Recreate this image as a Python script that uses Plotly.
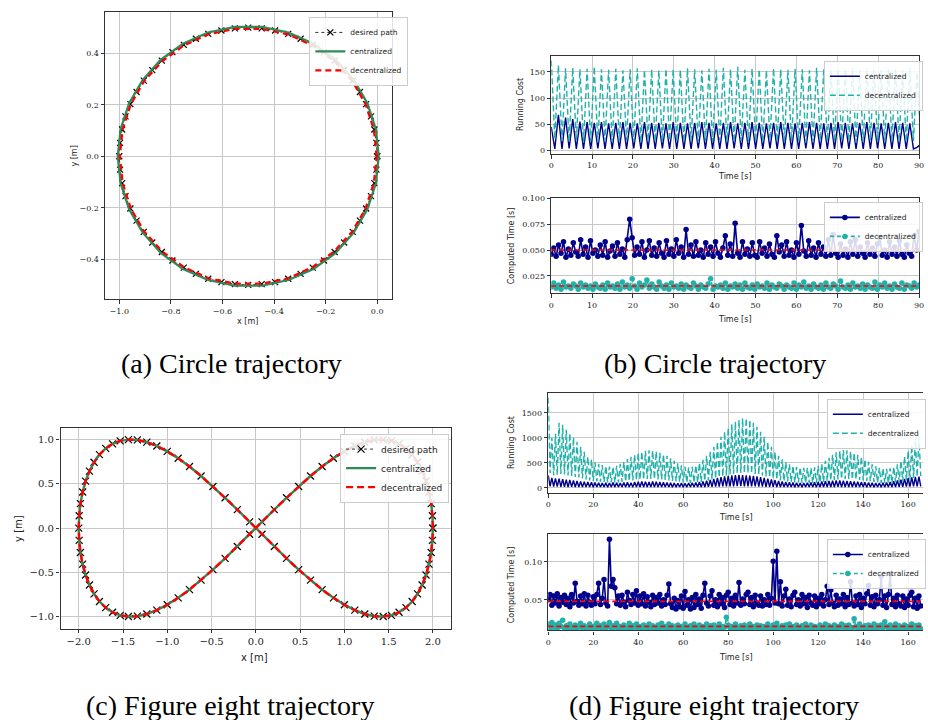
import plotly.graph_objects as go

W, H = 928, 720

# ---------------- (a) circle trajectory ----------------
circ_des_x = [0.0, -0.003, -0.011, -0.024, -0.043, -0.067, -0.095, -0.128, -0.165, -0.206, -0.25, -0.297, -0.345, -0.396, -0.448, -0.5,
              -0.552, -0.604, -0.655, -0.703, -0.75, -0.794, -0.835, -0.872, -0.905, -0.933, -0.957, -0.976, -0.989, -0.997, -1.0,
              -0.997, -0.989, -0.976, -0.957, -0.933, -0.905, -0.872, -0.835, -0.794, -0.75, -0.703, -0.655, -0.604, -0.552, -0.5,
              -0.448, -0.396, -0.345, -0.297, -0.25, -0.206, -0.165, -0.128, -0.095, -0.067, -0.043, -0.024, -0.011, -0.003, 0.0]
circ_des_y = [0.0, 0.052, 0.104, 0.155, 0.203, 0.25, 0.294, 0.335, 0.372, 0.405, 0.433, 0.457, 0.476, 0.489, 0.497, 0.5,
              0.497, 0.489, 0.476, 0.457, 0.433, 0.405, 0.372, 0.335, 0.294, 0.25, 0.203, 0.155, 0.104, 0.052, 0.0,
              -0.052, -0.104, -0.155, -0.203, -0.25, -0.294, -0.335, -0.372, -0.405, -0.433, -0.457, -0.476, -0.489, -0.497, -0.5,
              -0.497, -0.489, -0.476, -0.457, -0.433, -0.405, -0.372, -0.335, -0.294, -0.25, -0.203, -0.155, -0.104, -0.052, 0.0]
circ_cen_x = [0.006, -0.005, -0.038, -0.091, -0.161, -0.247, -0.344, -0.447, -0.553, -0.656, -0.753, -0.839, -0.909, -0.962, -0.995, -1.006,
              -0.995, -0.962, -0.909, -0.839, -0.753, -0.656, -0.553, -0.447, -0.344, -0.247, -0.161, -0.091, -0.038, -0.005, 0.006]
circ_cen_y = [0.0, 0.105, 0.206, 0.297, 0.376, 0.438, 0.481, 0.503, 0.503, 0.481, 0.438, 0.376, 0.297, 0.206, 0.105, 0.0,
              -0.105, -0.206, -0.297, -0.376, -0.438, -0.481, -0.503, -0.503, -0.481, -0.438, -0.376, -0.297, -0.206, -0.105, 0.0]
circ_dec_x = [-0.002, -0.013, -0.045, -0.097, -0.167, -0.251, -0.346, -0.448, -0.552, -0.654, -0.749, -0.833, -0.903, -0.955, -0.987, -0.998,
              -0.987, -0.955, -0.903, -0.833, -0.749, -0.654, -0.552, -0.448, -0.346, -0.251, -0.167, -0.097, -0.045, -0.013, -0.002]
circ_dec_y = [0.0, 0.104, 0.203, 0.293, 0.370, 0.431, 0.474, 0.495, 0.495, 0.474, 0.431, 0.370, 0.293, 0.203, 0.104, 0.0,
              -0.104, -0.203, -0.293, -0.370, -0.431, -0.474, -0.495, -0.495, -0.474, -0.431, -0.370, -0.293, -0.203, -0.104, 0.0]

# ---------------- (c) figure eight trajectory ----------------
eight_x = [2.0, 1.995, 1.981, 1.956, 1.923, 1.879, 1.827, 1.766, 1.696, 1.618, 1.532, 1.439, 1.338, 1.231, 1.118, 1.0,
           0.877, 0.749, 0.618, 0.484, 0.347, 0.209, 0.070,
           -0.070, -0.209, -0.347, -0.484, -0.618, -0.749, -0.877, -1.0, -1.118, -1.231, -1.338, -1.439, -1.532, -1.618,
           -1.696, -1.766, -1.827, -1.879, -1.923, -1.956, -1.981, -1.995, -2.0,
           -1.995, -1.981, -1.956, -1.923, -1.879, -1.827, -1.766, -1.696, -1.618, -1.532, -1.439, -1.338, -1.231, -1.118,
           -1.0, -0.877, -0.749, -0.618, -0.484, -0.347, -0.209, -0.070,
           0.070, 0.209, 0.347, 0.484, 0.618, 0.749, 0.877, 1.0, 1.118, 1.231, 1.338, 1.439, 1.532, 1.618, 1.696,
           1.766, 1.827, 1.879, 1.923, 1.956, 1.981, 1.995, 2.0]
eight_y = [0.0, 0.139, 0.276, 0.407, 0.530, 0.643, 0.743, 0.829, 0.899, 0.951, 0.985, 0.999, 0.995, 0.970, 0.927, 0.866,
           0.788, 0.695, 0.588, 0.469, 0.342, 0.208, 0.070,
           -0.070, -0.208, -0.342, -0.469, -0.588, -0.695, -0.788, -0.866, -0.927, -0.970, -0.995, -0.999, -0.985, -0.951,
           -0.899, -0.829, -0.743, -0.643, -0.530, -0.407, -0.276, -0.139, 0.0,
           0.139, 0.276, 0.407, 0.530, 0.643, 0.743, 0.829, 0.899, 0.951, 0.985, 0.999, 0.995, 0.970, 0.927,
           0.866, 0.788, 0.695, 0.588, 0.469, 0.342, 0.208, 0.070,
           -0.070, -0.208, -0.342, -0.469, -0.588, -0.695, -0.788, -0.866, -0.927, -0.970, -0.995, -0.999, -0.985, -0.951, -0.899,
           -0.829, -0.743, -0.643, -0.530, -0.407, -0.276, -0.139, 0.0]

# ---------------- (b) circle: running cost (peaks / lows per cycle) ----------------
rc_b_period = 1.755
rc_b_cen_peak = [45, 68, 63, 60, 55, 54, 53, 54, 52, 53, 54, 53, 52, 54, 53, 53, 52, 54, 53, 52, 53, 54, 53, 52, 53, 54,
                 52, 53, 54, 53, 52, 53, 54, 53, 52, 53, 54, 53, 52, 53, 54, 53, 52, 53, 54, 53, 52, 53, 54, 53, 52, 6]
rc_b_cen_low = [3, 3, 4, 3, 3, 3, 4, 3, 3, 3, 3, 4, 3, 3, 3, 4, 3, 3, 3, 3, 4, 3, 3, 3, 3, 4,
                3, 3, 3, 3, 4, 3, 3, 3, 3, 4, 3, 3, 3, 3, 4, 3, 3, 3, 3, 4, 3, 3, 3, 3, 3, 12]
rc_b_dec_peak = [172, 163, 157, 158, 155, 156, 160, 155, 154, 156, 153, 155, 157, 154, 155, 153, 156, 155, 154, 157,
                 155, 153, 156, 154, 158, 155, 160, 154, 156, 155, 153, 157, 155, 154, 156, 155, 153, 158, 155, 154,
                 156, 155, 157, 154, 156, 155, 153, 156, 155, 154, 158, 150]
rc_b_dec_low = [22, 18, 16, 19, 15, 17, 16, 18, 16, 17, 19, 16, 15, 18, 17, 16, 19, 17, 16, 18, 15, 17, 16, 19, 17, 16,
                18, 15, 17, 16, 19, 17, 16, 18, 17, 15, 16, 19, 17, 16, 18, 17, 15, 16, 19, 17, 16, 18, 17, 16, 18, 24]

# ---------------- (b) circle: computed time, sampled every 0.6 s ----------------
ct_b_step = 0.6
ct_b_cen = [0.046, 0.052, 0.044, 0.055, 0.047, 0.058, 0.043, 0.051, 0.045, 0.057,
            0.048, 0.044, 0.060, 0.046, 0.053, 0.043, 0.059, 0.047, 0.050, 0.044,
            0.055, 0.045, 0.058, 0.043, 0.049, 0.054, 0.044, 0.057, 0.046, 0.051,
            0.043, 0.060, 0.080, 0.062, 0.045, 0.053, 0.046, 0.058, 0.043, 0.050,
            0.059, 0.045, 0.052, 0.044, 0.057, 0.047, 0.043, 0.059, 0.046, 0.051,
            0.044, 0.060, 0.047, 0.053, 0.043, 0.070, 0.046, 0.055, 0.044, 0.058,
            0.045, 0.050, 0.043, 0.057, 0.046, 0.053, 0.044, 0.058, 0.047, 0.043,
            0.052, 0.064, 0.045, 0.056, 0.044, 0.076, 0.047, 0.043, 0.058, 0.046,
            0.051, 0.044, 0.057, 0.045, 0.043, 0.058, 0.047, 0.052, 0.044, 0.056,
            0.046, 0.043, 0.064, 0.048, 0.055, 0.044, 0.058, 0.045, 0.050, 0.043,
            0.057, 0.046, 0.074, 0.049, 0.044, 0.059, 0.045, 0.052, 0.043, 0.057,
            0.046, 0.053, 0.044, 0.060, 0.045, 0.065, 0.047, 0.043, 0.056, 0.045,
            0.051, 0.043, 0.058, 0.046, 0.060, 0.044, 0.053, 0.047, 0.043, 0.057,
            0.046, 0.052, 0.044, 0.056, 0.062, 0.045, 0.050, 0.043, 0.058, 0.046,
            0.053, 0.044, 0.059, 0.046, 0.043, 0.055, 0.047, 0.044, 0.064, 0.050,
            0.068]
ct_b_dec = [0.014, 0.018, 0.013, 0.016, 0.012, 0.019, 0.014, 0.015, 0.013, 0.017,
            0.015, 0.012, 0.018, 0.014, 0.016, 0.013, 0.015, 0.012, 0.017, 0.014,
            0.013, 0.016, 0.012, 0.018, 0.014, 0.015, 0.013, 0.017, 0.012, 0.019,
            0.014, 0.016, 0.013, 0.022, 0.015, 0.012, 0.018, 0.014, 0.016, 0.021,
            0.013, 0.017, 0.014, 0.012, 0.019, 0.015, 0.013, 0.016, 0.012, 0.018,
            0.014, 0.015, 0.013, 0.017, 0.012, 0.016, 0.014, 0.013, 0.018, 0.015,
            0.012, 0.016, 0.014, 0.013, 0.017, 0.022, 0.012, 0.015, 0.014, 0.016,
            0.013, 0.018, 0.012, 0.015, 0.014, 0.017, 0.013, 0.016, 0.012, 0.018,
            0.014, 0.013, 0.016, 0.012, 0.017, 0.014, 0.015, 0.013, 0.018, 0.012,
            0.016, 0.014, 0.013, 0.017, 0.015, 0.012, 0.016, 0.014, 0.013, 0.018,
            0.012, 0.016, 0.014, 0.019, 0.013, 0.015, 0.012, 0.017, 0.014, 0.013,
            0.016, 0.012, 0.018, 0.014, 0.013, 0.017, 0.015, 0.012, 0.020, 0.014,
            0.013, 0.016, 0.012, 0.018, 0.014, 0.015, 0.013, 0.017, 0.012, 0.016,
            0.014, 0.013, 0.019, 0.012, 0.016, 0.014, 0.018, 0.013, 0.015, 0.012,
            0.017, 0.014, 0.013, 0.018, 0.012, 0.016, 0.015, 0.013, 0.018, 0.014,
            0.016]
ct_b_mean = [0.050, 0.015]

# ---------------- (d) figure eight: running cost (peaks / lows per cycle) ----------------
rc_d_period = 1.6
rc_d_dec_peak = [1800, 1000, 1080, 1300, 1260, 1160, 1090, 1010, 920, 820,
                 720, 620, 570, 510, 480, 455, 435, 425, 420, 440,
                 480, 520, 575, 620, 660, 700, 720, 740, 750, 745,
                 730, 700, 670, 640, 590, 540, 490, 450, 420, 410,
                 420, 450, 500, 560, 640, 720, 820, 920, 1020, 1120,
                 1200, 1270, 1320, 1360, 1390, 1390, 1360, 1300, 1220, 1120,
                 1020, 920, 820, 720, 640, 570, 510, 470, 440, 420,
                 410, 400, 400, 400, 410, 440, 480, 540, 600, 660,
                 710, 740, 755, 750, 730, 700, 660, 620, 570, 520,
                 470, 430, 400, 390, 380, 390, 420, 470, 540, 630,
                 740, 850, 950, 1010]
rc_d_dec_low = [300, 250, 260, 280, 270, 250, 240, 220, 210, 190,
                170, 150, 140, 130, 120, 120, 110, 110, 110, 110,
                120, 130, 140, 150, 160, 170, 170, 180, 180, 180,
                170, 170, 160, 150, 140, 130, 120, 110, 110, 100,
                110, 110, 120, 140, 150, 170, 190, 210, 230, 250,
                270, 280, 290, 300, 300, 300, 290, 280, 270, 250,
                230, 210, 190, 170, 150, 140, 130, 120, 110, 110,
                100, 100, 100, 100, 100, 110, 120, 130, 150, 160,
                170, 180, 180, 180, 170, 170, 160, 150, 140, 130,
                120, 110, 100, 100, 100, 100, 110, 120, 130, 150,
                170, 200, 220, 240]
rc_d_cen_peak = [250, 200, 190, 185, 175, 165, 160, 150, 140, 130,
                 125, 120, 115, 110, 105, 100, 105, 100, 110, 105,
                 100, 110, 115, 105, 120, 125, 130, 125, 120, 130,
                 125, 120, 115, 110, 105, 100, 95, 100, 95, 100,
                 105, 110, 120, 130, 145, 160, 180, 200, 215, 230,
                 240, 250, 255, 260, 255, 250, 245, 240, 230, 215,
                 200, 185, 170, 155, 140, 130, 120, 115, 110, 105,
                 100, 100, 105, 110, 115, 120, 130, 135, 140, 145,
                 150, 150, 145, 140, 135, 130, 125, 120, 115, 110,
                 105, 100, 100, 105, 110, 120, 135, 150, 165, 180,
                 195, 210, 220, 225]
rc_d_cen_low = [35, 30, 28, 25, 22, 20, 22, 20, 18, 20,
                18, 20, 17, 19, 18, 20, 17, 19, 18, 20,
                19, 18, 20, 17, 19, 18, 20, 19, 18, 20,
                17, 19, 18, 20, 17, 18, 19, 17, 18, 19,
                18, 20, 19, 21, 22, 24, 26, 28, 30, 32,
                33, 34, 35, 35, 34, 33, 32, 30, 28, 26,
                24, 22, 21, 20, 19, 18, 19, 18, 17, 18,
                17, 18, 19, 18, 17, 18, 19, 20, 19, 20,
                21, 20, 19, 20, 19, 18, 19, 18, 17, 18,
                17, 18, 17, 18, 19, 20, 21, 22, 24, 26,
                28, 30, 32, 33]

# ---------------- (d) figure eight: computed time, sampled every 0.8 s ----------------
ct_d_step = 0.8
ct_d_cen = [0.050, 0.057, 0.043, 0.055, 0.046, 0.058, 0.042, 0.053, 0.047, 0.056,
            0.044, 0.052, 0.041, 0.057, 0.046, 0.072, 0.048, 0.043, 0.055, 0.045,
            0.058, 0.042, 0.056, 0.047, 0.043, 0.054, 0.045, 0.057, 0.072, 0.044,
            0.052, 0.077, 0.046, 0.042, 0.130, 0.068, 0.077, 0.066, 0.045, 0.055,
            0.043, 0.056, 0.047, 0.041, 0.060, 0.049, 0.044, 0.057, 0.046, 0.062,
            0.043, 0.055, 0.045, 0.058, 0.042, 0.054, 0.047, 0.041, 0.056, 0.044,
            0.053, 0.046, 0.057, 0.042, 0.050, 0.044, 0.056, 0.071, 0.045, 0.040,
            0.052, 0.038, 0.049, 0.041, 0.055, 0.039, 0.061, 0.043, 0.050, 0.038,
            0.053, 0.040, 0.057, 0.044, 0.051, 0.039, 0.056, 0.072, 0.046, 0.042,
            0.055, 0.062, 0.043, 0.050, 0.041, 0.057, 0.045, 0.053, 0.040, 0.056,
            0.060, 0.044, 0.052, 0.042, 0.056, 0.046, 0.073, 0.043, 0.051, 0.045,
            0.057, 0.060, 0.044, 0.053, 0.041, 0.056, 0.046, 0.043, 0.055, 0.042,
            0.050, 0.044, 0.057, 0.043, 0.052, 0.101, 0.046, 0.114, 0.045, 0.074,
            0.042, 0.055, 0.064, 0.043, 0.051, 0.041, 0.056, 0.060, 0.044, 0.050,
            0.042, 0.057, 0.045, 0.053, 0.040, 0.056, 0.046, 0.043, 0.055, 0.041,
            0.052, 0.045, 0.057, 0.042, 0.050, 0.068, 0.044, 0.063, 0.046, 0.041,
            0.056, 0.043, 0.051, 0.045, 0.057, 0.041, 0.053, 0.044, 0.074, 0.046,
            0.042, 0.055, 0.044, 0.057, 0.040, 0.052, 0.045, 0.058, 0.069, 0.043,
            0.054, 0.041, 0.056, 0.045, 0.050, 0.081, 0.043, 0.055, 0.040, 0.057,
            0.084, 0.044, 0.052, 0.041, 0.056, 0.045, 0.042, 0.055, 0.040, 0.051,
            0.043, 0.056, 0.060, 0.041, 0.052, 0.039, 0.055, 0.042]
ct_d_dec = [0.018, 0.013, 0.020, 0.014, 0.017, 0.012, 0.019, 0.015, 0.023, 0.013,
            0.016, 0.012, 0.018, 0.014, 0.013, 0.017, 0.012, 0.015, 0.019, 0.013,
            0.016, 0.012, 0.014, 0.018, 0.013, 0.015, 0.012, 0.019, 0.014, 0.016,
            0.012, 0.018, 0.013, 0.015, 0.020, 0.012, 0.016, 0.014, 0.019, 0.013,
            0.015, 0.012, 0.017, 0.014, 0.013, 0.019, 0.012, 0.016, 0.014, 0.018,
            0.013, 0.015, 0.012, 0.017, 0.014, 0.013, 0.018, 0.012, 0.016, 0.014,
            0.013, 0.017, 0.012, 0.019, 0.014, 0.015, 0.012, 0.018, 0.013, 0.016,
            0.014, 0.012, 0.017, 0.013, 0.015, 0.012, 0.018, 0.014, 0.013, 0.016,
            0.012, 0.018, 0.014, 0.013, 0.017, 0.012, 0.015, 0.014, 0.018, 0.013,
            0.016, 0.012, 0.017, 0.014, 0.013, 0.018, 0.012, 0.015, 0.014, 0.027,
            0.017, 0.013, 0.015, 0.012, 0.018, 0.014, 0.013, 0.016, 0.012, 0.017,
            0.014, 0.013, 0.018, 0.012, 0.015, 0.014, 0.017, 0.012, 0.016, 0.013,
            0.015, 0.012, 0.018, 0.014, 0.013, 0.017, 0.012, 0.019, 0.014, 0.013,
            0.016, 0.012, 0.017, 0.014, 0.018, 0.013, 0.015, 0.012, 0.017, 0.014,
            0.013, 0.016, 0.012, 0.018, 0.014, 0.013, 0.017, 0.012, 0.015, 0.014,
            0.012, 0.017, 0.014, 0.013, 0.018, 0.012, 0.016, 0.014, 0.013, 0.017,
            0.012, 0.015, 0.014, 0.018, 0.013, 0.016, 0.012, 0.017, 0.014, 0.013,
            0.025, 0.015, 0.012, 0.018, 0.014, 0.013, 0.016, 0.012, 0.017, 0.014,
            0.013, 0.018, 0.012, 0.016, 0.014, 0.017, 0.013, 0.021, 0.015, 0.012,
            0.017, 0.014, 0.013, 0.018, 0.012, 0.016, 0.014, 0.013, 0.017, 0.012,
            0.015, 0.014, 0.018, 0.012, 0.016, 0.013, 0.017, 0.012]
ct_d_mean = [0.048, 0.015]

captions = ["(a) Circle trajectory", "(b) Circle trajectory",
            "(c) Figure eight trajectory", "(d) Figure eight trajectory"]

# ---------------- helpers ----------------
def interleave(peaks, lows):
    out = []
    for p, l in zip(peaks, lows):
        out += [p, l]
    return out

def half_times(n, period):
    return [round(k * period / 2, 4) for k in range(n)]

def grid_times(n, step):
    return [round(k * step, 4) for k in range(n)]

def px(x): return x / W
def py(y): return 1 - y / H

NAVY = "#00008b"
CYAN = "#20b2aa"
GREEN = "#2e8b57"
RED = "#ff0000"
SERIF = "DejaVu Serif"
SANS = "DejaVu Sans"

fig = go.Figure()

# (a)
fig.add_trace(go.Scatter(x=circ_des_x, y=circ_des_y, mode="lines+markers", name="desired path",
                         line=dict(color="black", width=0.8, dash="dot"),
                         marker=dict(symbol="x-thin", size=6, line=dict(color="black", width=1.2)),
                         xaxis="x", yaxis="y", legend="legend"))
fig.add_trace(go.Scatter(x=circ_cen_x, y=circ_cen_y, mode="lines", name="centralized",
                         line=dict(color=GREEN, width=2.2), xaxis="x", yaxis="y", legend="legend"))
fig.add_trace(go.Scatter(x=circ_dec_x, y=circ_dec_y, mode="lines", name="decentralized",
                         line=dict(color=RED, width=2.2, dash="6px,4px"), xaxis="x", yaxis="y", legend="legend"))

# (b) running cost
rcb_cen = interleave(rc_b_cen_peak, rc_b_cen_low)
rcb_dec = interleave(rc_b_dec_peak, rc_b_dec_low)
fig.add_trace(go.Scatter(x=half_times(len(rcb_cen), rc_b_period), y=rcb_cen, mode="lines", name="centralized",
                         line=dict(color=NAVY, width=1.4), xaxis="x2", yaxis="y2", legend="legend2"))
fig.add_trace(go.Scatter(x=half_times(len(rcb_dec), rc_b_period), y=rcb_dec, mode="lines", name="decentralized",
                         line=dict(color=CYAN, width=1.4, dash="6px,3px"), xaxis="x2", yaxis="y2", legend="legend2"))

# (b) computed time
tb = grid_times(len(ct_b_cen), ct_b_step)
fig.add_trace(go.Scatter(x=tb, y=ct_b_cen, mode="lines+markers", name="centralized",
                         line=dict(color=NAVY, width=1.6), marker=dict(size=5.5, color=NAVY),
                         xaxis="x3", yaxis="y3", legend="legend3"))
fig.add_trace(go.Scatter(x=grid_times(len(ct_b_dec), ct_b_step), y=ct_b_dec, mode="lines+markers", name="decentralized",
                         line=dict(color=CYAN, width=1.6, dash="4px,3px"), marker=dict(size=5.5, color=CYAN),
                         xaxis="x3", yaxis="y3", legend="legend3"))
for m in ct_b_mean:
    fig.add_trace(go.Scatter(x=[tb[0], tb[-1]], y=[m, m], mode="lines", showlegend=False,
                             line=dict(color=RED, width=1.6, dash="5px,3px"), xaxis="x3", yaxis="y3"))

# (c)
fig.add_trace(go.Scatter(x=eight_x, y=eight_y, mode="lines+markers", name="desired path",
                         line=dict(color="black", width=0.8, dash="dot"),
                         marker=dict(symbol="x-thin", size=7, line=dict(color="black", width=1.2)),
                         xaxis="x4", yaxis="y4", legend="legend4"))
fig.add_trace(go.Scatter(x=eight_x, y=eight_y, mode="lines", name="centralized",
                         line=dict(color=GREEN, width=2.4), xaxis="x4", yaxis="y4", legend="legend4"))
fig.add_trace(go.Scatter(x=eight_x, y=eight_y, mode="lines", name="decentralized",
                         line=dict(color=RED, width=2.4, dash="7px,4px"), xaxis="x4", yaxis="y4", legend="legend4"))

# (d) running cost
rcd_cen = interleave(rc_d_cen_peak, rc_d_cen_low)
rcd_dec = interleave(rc_d_dec_peak, rc_d_dec_low)
fig.add_trace(go.Scatter(x=half_times(len(rcd_cen), rc_d_period), y=rcd_cen, mode="lines", name="centralized",
                         line=dict(color=NAVY, width=1.4), xaxis="x5", yaxis="y5", legend="legend5"))
fig.add_trace(go.Scatter(x=half_times(len(rcd_dec), rc_d_period), y=rcd_dec, mode="lines", name="decentralized",
                         line=dict(color=CYAN, width=1.4, dash="6px,3px"), xaxis="x5", yaxis="y5", legend="legend5"))

# (d) computed time
td = grid_times(len(ct_d_cen), ct_d_step)
fig.add_trace(go.Scatter(x=td, y=ct_d_cen, mode="lines+markers", name="centralized",
                         line=dict(color=NAVY, width=1.6), marker=dict(size=5.5, color=NAVY),
                         xaxis="x6", yaxis="y6", legend="legend6"))
fig.add_trace(go.Scatter(x=grid_times(len(ct_d_dec), ct_d_step), y=ct_d_dec, mode="lines+markers", name="decentralized",
                         line=dict(color=CYAN, width=1.6, dash="4px,3px"), marker=dict(size=5.5, color=CYAN),
                         xaxis="x6", yaxis="y6", legend="legend6"))
for m in ct_d_mean:
    fig.add_trace(go.Scatter(x=[td[0], td[-1]], y=[m, m], mode="lines", showlegend=False,
                             line=dict(color=RED, width=1.6, dash="5px,3px"), xaxis="x6", yaxis="y6"))


def ax(domain, rng, dtick, fmt, fs, anchor, mirror=True, tick0=0):
    return dict(domain=domain, range=rng, dtick=dtick, tick0=tick0, tickformat=fmt,
                showgrid=True, gridcolor="#c8c8c8", gridwidth=1, zeroline=False,
                showline=True, linecolor="#333333", linewidth=1.2, mirror=mirror,
                ticks="outside", ticklen=3.5, tickwidth=1, tickcolor="#333333",
                tickfont=dict(family=SERIF, size=fs, color="#222222"), anchor=anchor)


def leg(x, y, fs):
    return dict(x=px(x), y=py(y), xanchor="left", yanchor="top", bgcolor="rgba(255,255,255,0.85)",
                bordercolor="#cccccc", borderwidth=1, font=dict(family=SANS, size=fs, color="#222222"),
                itemwidth=30, tracegroupgap=0)


layout = dict(
    width=W, height=H, margin=dict(l=0, r=0, t=0, b=0),
    paper_bgcolor="white", plot_bgcolor="white", showlegend=True,
    xaxis=ax([px(103), px(392)], [-1.055, 0.056], 0.2, ".1f", 8, "y"),
    yaxis=ax([py(298), py(9)], [-0.556, 0.561], 0.2, ".1f", 8, "x"),
    xaxis2=ax([px(553), px(924)], [0, 90], 10, "d", 8, "y2"),
    yaxis2=ax([py(152), py(53)], [-7, 181], 50, "d", 8, "x2"),
    xaxis3=ax([px(553), px(924)], [0, 90], 10, "d", 8, "y3"),
    yaxis3=ax([py(292), py(196)], [0.0079, 0.1007], 0.025, ".3f", 8, "x3"),
    xaxis4=ax([px(58), px(452)], [-2.206, 2.206], 0.5, ".1f", 10, "y4"),
    yaxis4=ax([py(629), py(427)], [-1.134, 1.134], 0.5, ".1f", 10, "x4"),
    xaxis5=ax([px(550), 1.0], [0, 166.6], 20, "d", 8, "y5"),
    yaxis5=ax([py(493), py(392)], [-105, 1896], 500, "d", 8, "x5", mirror=False),
    xaxis6=ax([px(550), 1.0], [0, 166.6], 20, "d", 8, "y6"),
    yaxis6=ax([py(631), py(534)], [0.0096, 0.1368], 0.05, ".2f", 8, "x6", mirror=False),
    legend=leg(309, 14, 7.5),
    legend2=leg(828, 58, 7.5),
    legend3=leg(828, 200, 7.5),
    legend4=leg(340, 433, 9),
    legend5=leg(831, 398, 7.5),
    legend6=leg(831, 539, 7.5),
)
fig.update_layout(**layout)
fig.update_xaxes(mirror=True)

annos = []
def lab(text, x, y, fs=8, rot=0):
    annos.append(dict(text=text, x=px(x), y=py(y), xref="paper", yref="paper", showarrow=False,
                      xanchor="center", yanchor="middle", textangle=rot,
                      font=dict(family=SANS, size=fs, color="#222222")))

lab("x [m]", 247, 320)
lab("y [m]", 72, 154, rot=-90)
lab("Running Cost", 522, 102, rot=-90)
lab("Time [s]", 738, 174)
lab("Computed Time [s]", 513, 244, rot=-90)
lab("Time [s]", 738, 318)
lab("x [m]", 254, 658, fs=10)
lab("y [m]", 15, 528, fs=10, rot=-90)
lab("Running Cost", 513, 442, rot=-90)
lab("Time [s]", 739, 517)
lab("Computed Time [s]", 513, 585, rot=-90)
lab("Time [s]", 739, 658)

cap_pos = [(230, 363), (718, 363), (229, 706), (717, 706)]
for text, (cx, cy) in zip(captions, cap_pos):
    annos.append(dict(text=text, x=px(cx), y=py(cy), xref="paper", yref="paper", showarrow=False,
                      xanchor="center", yanchor="middle",
                      font=dict(family="Liberation Serif", size=28, color="black")))

fig.update_layout(annotations=annos)
fig.write_html("out.html")
